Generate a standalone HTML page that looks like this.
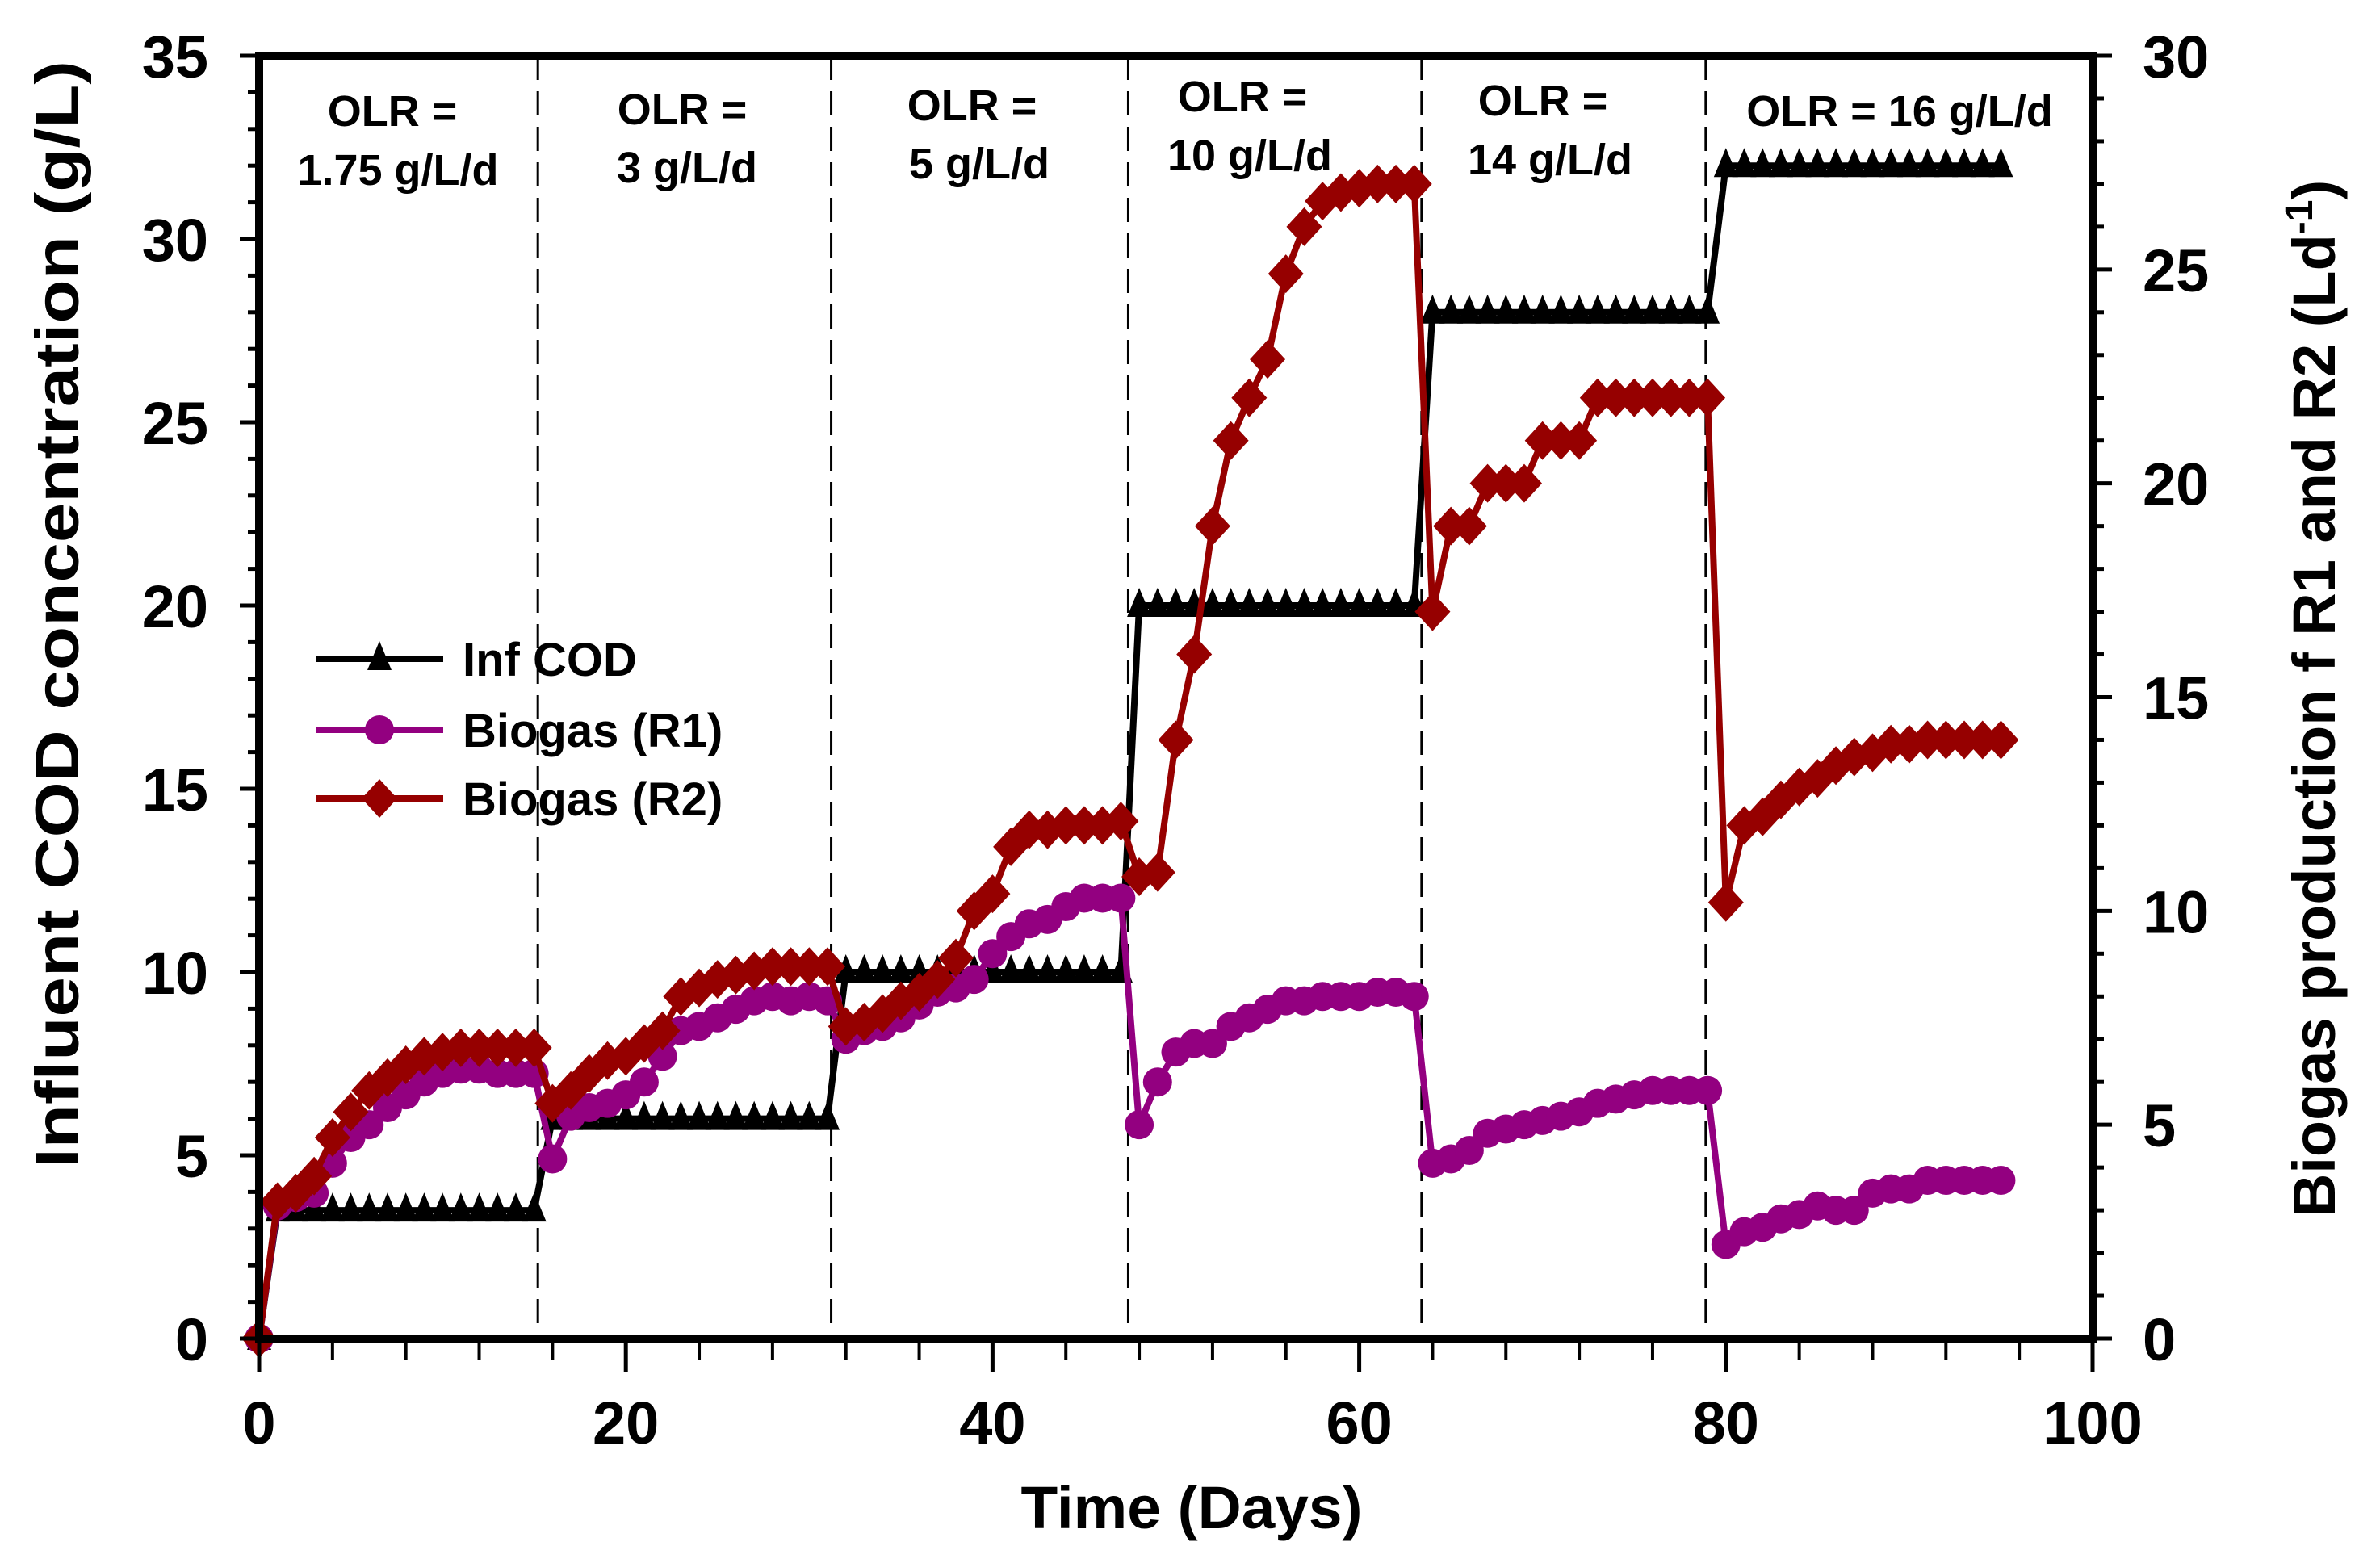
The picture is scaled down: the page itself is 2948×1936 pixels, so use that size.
<!DOCTYPE html>
<html><head><meta charset="utf-8"><style>
html,body{margin:0;padding:0;background:#fff}
svg{display:block}
text{font-family:"Liberation Sans",Arial,sans-serif;font-weight:bold;fill:#000}
</style></head><body>
<svg id="chart" width="2948" height="1936" viewBox="0 0 2948 1936" xmlns="http://www.w3.org/2000/svg">
<g id="plot"></g>
</svg>
<script>
const days = Array.from({length:96},(_,i)=>i);
const infCOD = [0,3.5,3.5,3.5,3.5,3.5,3.5,3.5,3.5,3.5,3.5,3.5,3.5,3.5,3.5,3.5,
 6,6,6,6,6,6,6,6,6,6,6,6,6,6,6,6,
 10,10,10,10,10,10,10,10,10,10,10,10,10,10,10,10,
 20,20,20,20,20,20,20,20,20,20,20,20,20,20,20,20,
 28,28,28,28,28,28,28,28,28,28,28,28,28,28,28,28,
 32,32,32,32,32,32,32,32,32,32,32,32,32,32,32,32];
const biogasR1 = [0,3.1,3.3,3.4,4.1,4.7,5.0,5.4,5.7,6.0,6.2,6.3,6.3,6.2,6.2,6.2,
 4.2,5.2,5.4,5.5,5.7,6.0,6.6,7.2,7.3,7.5,7.7,7.9,8.0,7.9,8.0,7.9,
 7.0,7.2,7.3,7.5,7.8,8.1,8.2,8.4,9.0,9.4,9.7,9.8,10.1,10.3,10.3,10.3,
 5.0,6.0,6.7,6.9,6.9,7.3,7.5,7.7,7.9,7.9,8.0,8.0,8.0,8.1,8.1,8.0,
 4.1,4.2,4.4,4.8,4.9,5.0,5.1,5.2,5.3,5.5,5.6,5.7,5.8,5.8,5.8,5.8,
 2.2,2.5,2.6,2.8,2.9,3.1,3.0,3.0,3.4,3.5,3.5,3.7,3.7,3.7,3.7,3.7];
const biogasR2 = [0,3.2,3.4,3.8,4.7,5.3,5.8,6.1,6.4,6.6,6.7,6.8,6.8,6.8,6.8,6.8,
 5.5,5.8,6.2,6.5,6.6,6.9,7.2,8.0,8.2,8.4,8.5,8.6,8.7,8.7,8.7,8.7,
 7.3,7.4,7.6,7.9,8.1,8.4,8.9,10.0,10.4,11.5,11.9,11.9,12.0,12.0,12.0,12.1,
 10.8,10.9,14.0,16.0,19.0,21.0,22.0,22.9,24.9,26.0,26.6,26.8,26.9,27.0,27.0,27.0,
 17.0,19.0,19.0,20.0,20.0,20.0,21.0,21.0,21.0,22.0,22.0,22.0,22.0,22.0,22.0,22.0,
 10.2,12.0,12.2,12.6,12.9,13.1,13.4,13.6,13.7,13.9,13.9,14.0,14.0,14.0,14.0,14.0];
const phaseBounds = [15.2,31.2,47.4,63.4,78.9];
const xTicks = [0,20,40,60,80,100];
const yLeftTicks = [0,5,10,15,20,25,30,35];
const yRightTicks = [0,5,10,15,20,25,30];

const L=321,R=2592,T=69,B=1658;
const X=d=>L+(d/100)*(R-L);
const YL=v=>B-(v/35)*(B-T);
const YR=v=>B-(v/30)*(B-T);
const NS="http://www.w3.org/2000/svg";
const g=document.getElementById('plot');
function mk(tag,attrs,parent){const e=document.createElementNS(NS,tag);for(const k in attrs)e.setAttribute(k,attrs[k]);(parent||g).appendChild(e);return e;}

phaseBounds.forEach(p=>{
 const e=mk('line',{x1:X(p),x2:X(p),y1:T,y2:B,stroke:'#000','stroke-width':3,'stroke-dasharray':'30,14'});
 
 
});

function series(vals,yf,color,name){
 const pts=days.map((d,i)=>X(d)+','+yf(vals[i])).join(' ');
 const pl=mk('polyline',{points:pts,fill:'none',stroke:color,'stroke-width':8,'stroke-linejoin':'round'});
 
 
 return pl;
}
series(infCOD,YL,'#000','inf-cod');
days.forEach((d,i)=>{const x=X(d),y=YL(infCOD[i]);
 const m=mk('polygon',{points:`${x},${y-22} ${x-15},${y+14} ${x+15},${y+14}`,fill:'#000'});
 
 });
series(biogasR1,YR,'#930080','biogas-r1');
days.forEach((d,i)=>{
 const m=mk('circle',{cx:X(d),cy:YR(biogasR1[i]),r:18,fill:'#930080'});
 
 });
series(biogasR2,YR,'#960000','biogas-r2');
days.forEach((d,i)=>{const x=X(d),y=YR(biogasR2[i]);
 const m=mk('polygon',{points:`${x},${y-24} ${x+22},${y} ${x},${y+24} ${x-22},${y}`,fill:'#960000'});
 
 });

const fr=mk('rect',{x:L,y:T,width:R-L,height:B-T,fill:'none',stroke:'#000','stroke-width':10});



for(let d=0;d<=100;d+=4){const maj=d%20===0;
 mk('line',{x1:X(d),x2:X(d),y1:B,y2:B+(maj?42:26),stroke:'#000','stroke-width':maj?5:4});}
xTicks.forEach(t=>{const e=mk('text',{x:X(t),y:1788,'font-size':74,'text-anchor':'middle'});e.textContent=t;
 
 });
for(let v=0;v<=35;v++){const maj=v%5===0;
 mk('line',{x1:L-(maj?24:14),x2:L,y1:YL(v),y2:YL(v),stroke:'#000','stroke-width':5});}
yLeftTicks.forEach(t=>{const e=mk('text',{x:258,y:YL(t)+27,'font-size':74,'text-anchor':'end'});e.textContent=t;
 
 });
for(let v=0;v<=30;v++){const maj=v%5===0;
 mk('line',{x1:R,x2:R+(maj?24:14),y1:YR(v),y2:YR(v),stroke:'#000','stroke-width':5});}
yRightTicks.forEach(t=>{const e=mk('text',{x:2654,y:YR(t)+27,'font-size':74,'text-anchor':'start'});e.textContent=t;
 
 });
</script>
<svg style="position:absolute;left:0;top:0" width="2948" height="1936" viewBox="0 0 2948 1936" xmlns="http://www.w3.org/2000/svg">
<text x="1476" y="1893" font-size="74" text-anchor="middle" textLength="423" lengthAdjust="spacingAndGlyphs">Time (Days)</text>
<text transform="translate(97,761) rotate(-90)" font-size="76" text-anchor="middle" textLength="1372" lengthAdjust="spacingAndGlyphs">Influent COD concentration (g/L)</text>
<text transform="translate(2892,865) rotate(-90)" font-size="74" text-anchor="middle">Biogas production f R1 and R2 (Ld<tspan dy="-28" font-size="48">-1</tspan><tspan dy="28">)</tspan></text>
<g font-size="54" text-anchor="middle">
<text x="486" y="156">OLR =</text>
<text x="493" y="229">1.75 g/L/d</text>
<text x="845" y="154">OLR =</text>
<text x="851" y="226">3 g/L/d</text>
<text x="1204" y="149">OLR =</text>
<text x="1213" y="221">5 g/L/d</text>
<text x="1539" y="138">OLR =</text>
<text x="1548" y="211">10 g/L/d</text>
<text x="1911" y="143">OLR =</text>
<text x="1920" y="216">14 g/L/d</text>
<text x="2353" y="156">OLR = 16 g/L/d</text>
</g>
<g>
<g>
<line x1="391" y1="816" x2="549" y2="816" stroke="#000" stroke-width="8"/>
<polygon points="470,794 455,830 485,830" fill="#000"/>
<text x="573" y="837" font-size="58">Inf COD</text></g>
<g>
<line x1="391" y1="904" x2="549" y2="904" stroke="#930080" stroke-width="8"/>
<circle cx="470" cy="904" r="18" fill="#930080"/>
<text x="573" y="925" font-size="58">Biogas (R1)</text></g>
<g>
<line x1="391" y1="989" x2="549" y2="989" stroke="#960000" stroke-width="8"/>
<polygon points="470,965 492,989 470,1013 448,989" fill="#960000"/>
<text x="573" y="1010" font-size="58">Biogas (R2)</text></g>
</g>
</svg>
</body></html>
